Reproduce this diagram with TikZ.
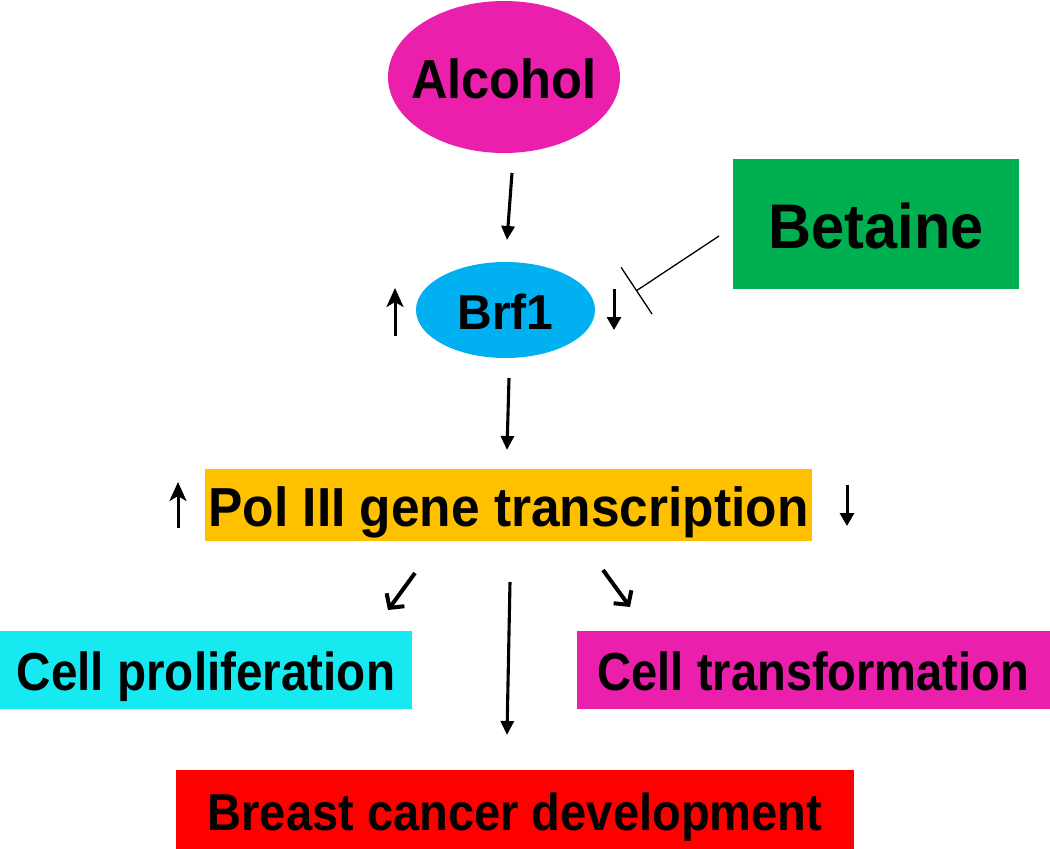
\documentclass[tikz,border=0pt]{standalone}
\usepackage{fontspec}
\setmainfont{Liberation Sans}
\usetikzlibrary{arrows.meta,calc,shapes.geometric}
\definecolor{mag}{RGB}{234,31,171}
\definecolor{sky}{RGB}{0,176,240}
\definecolor{grn}{RGB}{0,176,80}
\definecolor{amb}{RGB}{255,192,0}
\definecolor{cyn}{RGB}{23,233,241}
\definecolor{redc}{RGB}{255,0,0}
\newcommand{\sx}[2]{\scalebox{#1}[1]{#2}}
\begin{document}
\begin{tikzpicture}[x=1pt,y=-1pt,
  box/.style={rectangle,inner sep=0pt,outer sep=0pt,text depth=0pt},
  oval/.style={ellipse,inner sep=0pt,outer sep=0pt},
  lab/.style={inner sep=0pt,outer sep=0pt,text depth=0pt},
  arr/.style={line width=3.1pt,-{Triangle[length=14pt,width=13pt]}},
  diag/.style={line width=4pt,-{Straight Barb[length=10pt,width=22pt]}},
  upmark/.style={line width=3pt,-{Stealth[length=19pt,width=17pt,inset=5pt]}},
  downmark/.style={line width=3pt,-{Triangle[length=13pt,width=14pt]}},
  inhib/.style={line width=1.3pt,-{Bar[width=56pt,line width=1.3pt]}}
]
\useasboundingbox (0,0) rectangle (1050,849);
\fill[white] (0,0) rectangle (1050,849);

% nodes
\node[oval, fill=mag, minimum width=232pt, minimum height=152pt,
  label={[lab, font=\fontsize{55}{60}\selectfont\bfseries, text height=42pt]center:{\sx{0.92}{Alcohol}}}]
  (alc) at (504,77) {};
\node[oval, fill=sky, minimum width=179pt, minimum height=96pt,
  label={[lab, font=\fontsize{49}{55}\selectfont\bfseries, text height=39pt]center:{\sx{0.98}{Brf1}}}]
  (brf) at (505.5,310) {};
\node[box, fill=grn, minimum width=286pt, minimum height=130pt,
  font=\fontsize{63}{70}\selectfont\bfseries, text height=48pt]
  (bet) at (876,224) {\sx{0.945}{Betaine}};
\node[box, fill=amb, minimum width=607pt, minimum height=72pt,
  font=\fontsize{55}{60}\selectfont\bfseries, text height=42pt]
  (pol) at (508.5,505) {\sx{0.935}{Pol III gene transcription}};
\node[box, fill=cyn, minimum width=412pt, minimum height=78pt,
  font=\fontsize{53.5}{60}\selectfont\bfseries, text height=41pt]
  (prolif) at (206,670) {\sx{0.89}{Cell proliferation}};
\node[box, fill=mag, minimum width=473pt, minimum height=78pt,
  font=\fontsize{53.5}{60}\selectfont\bfseries, text height=41pt]
  (trans) at (813.5,670) {\sx{0.88}{Cell transformation}};
\node[box, fill=redc, minimum width=678pt, minimum height=79pt,
  font=\fontsize{52}{58}\selectfont\bfseries, text height=41pt]
  (breast) at (515,809.5) {\sx{0.905}{Breast cancer development}};

% connectors
\draw[arr] ($(alc.south)+(8,20)$) -- ($(brf.north)+(1.5,-22)$);
\draw[arr] ($(brf.south)+(3.5,20)$) -- ($(pol.north)+(-1.5,-19)$);
\draw[diag] ($(pol.south)+(-93.5,32)$) -- ($(prolif.north)+(182,-21)$);
\draw[diag] ($(pol.south)+(94.5,29)$) -- ($(trans.north)+(-183.5,-24)$);
\draw[arr] ($(pol.south)+(1.5,41)$) -- ($(breast.north)+(-8,-35)$);
\draw[inhib] ($(bet.west)+(-14,12)$) -- ($(brf.east)+(41,-19)$);

% up / down markers
\draw[upmark] ($(brf.west)+(-21,26)$) -- ($(brf.west)+(-21,-22)$);
\draw[downmark] ($(brf.east)+(19,-21)$) -- ($(brf.east)+(19,20)$);
\draw[upmark] ($(pol.west)+(-27,23)$) -- ($(pol.west)+(-27,-23)$);
\draw[downmark] ($(pol.east)+(35,-20)$) -- ($(pol.east)+(35,21)$);
\end{tikzpicture}
\end{document}
